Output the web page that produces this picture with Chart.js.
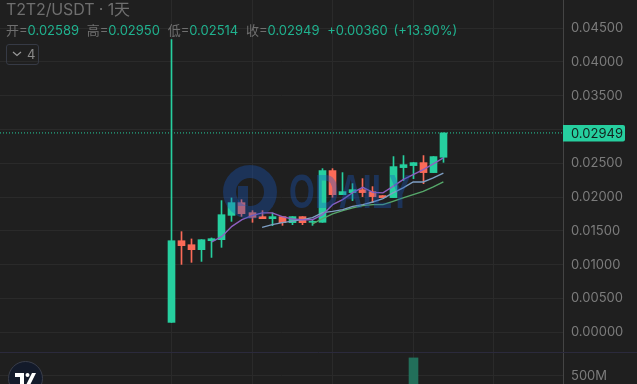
<!DOCTYPE html>
<html>
<head>
<meta charset="utf-8">
<script src="https://cdn.jsdelivr.net/npm/chart.js@4"></script>
<style>
  html, body { margin: 0; padding: 0; background: #1f1f1f; overflow: hidden; }
  #wrap { position: relative; width: 637px; height: 384px; font-family: Inter, "Noto Sans CJK SC", sans-serif; }
  #title { position: absolute; left: 6px; top: 0; font-size: 16px; line-height: 19px; color: #6f6f6f; letter-spacing: -0.12px; }
  #ohlc { position: absolute; left: 6px; top: 22px; font-size: 13px; line-height: 16px; color: #6f6f6f; white-space: nowrap; }
  #ohlc b { font-weight: 400; color: #20b28f; margin-right: 7.7px; }
  #ohlc i { font-style: normal; color: #20b28f; word-spacing: 2px; }
  #toggle { position: absolute; left: 6px; top: 44px; width: 31px; height: 19px; border: 1px solid #363a45; border-radius: 3px; color: #8a8a8a; font-size: 13px; line-height: 19px; }
  #toggle svg { position: absolute; left: 5px; top: 6px; }
  #toggle span { position: absolute; left: 20px; top: 0; }
  #tvlogo { position: absolute; left: 8px; top: 361px; width: 35px; height: 35px; border-radius: 50%; background: #131a2a; border: 1px solid #3a3e4a; box-sizing: border-box; }
  #tvlogo svg { position: absolute; left: 6px; top: 11px; }
</style>
</head>
<body>
<div id="wrap">
  <canvas id="chart" width="637" height="384" style="position:absolute;left:0;top:0"></canvas>
  <div id="title">T2T2/USDT · 1天</div>
  <div id="ohlc">开=<b>0.02589</b>高=<b>0.02950</b>低=<b>0.02514</b>收=<b>0.02949</b><i>+0.00360 (+13.90%)</i></div>
  <div id="toggle">
    <svg width="10" height="6"><path d="M1 1 L5 4.5 L9 1" stroke="#9a9a9a" fill="none" stroke-width="1.2"/></svg>
    <span>4</span>
  </div>
  <div id="tvlogo">
    <svg width="22" height="14"><path d="M0 0 H9 V12 H5 V4 H0 Z M17 0 H21 L15 12 H11 Z" fill="#fff"/><circle cx="12.5" cy="2" r="2" fill="#fff"/></svg>
  </div>
</div>
<script>
// candle values, one entry per day
const opens  = [0.00147, 0.01355, 0.01296, 0.01222, 0.01355, 0.0137, 0.0173, 0.01918, 0.0177, 0.01711, 0.01681, 0.01711, 0.01622, 0.01711, 0.01627, 0.01627, 0.02392, 0.02036, 0.02066, 0.0211, 0.02081, 0.02022, 0.01992, 0.02436, 0.02466, 0.0251, 0.02362, 0.02589];
const closes = [0.01355, 0.01282, 0.01222, 0.0137, 0.01385, 0.0174, 0.01918, 0.01755, 0.017, 0.01681, 0.01711, 0.01622, 0.01711, 0.01622, 0.01641, 0.02392, 0.02036, 0.02081, 0.0211, 0.02066, 0.02007, 0.01992, 0.02451, 0.0248, 0.0251, 0.02362, 0.02599, 0.02949];
const highs  = [0.0433, 0.01489, 0.01381, 0.0137, 0.01396, 0.01948, 0.01988, 0.01962, 0.018, 0.018, 0.01766, 0.01711, 0.01711, 0.01711, 0.01656, 0.02421, 0.02421, 0.02362, 0.02199, 0.02273, 0.02155, 0.02022, 0.02599, 0.02614, 0.0251, 0.02614, 0.02599, 0.0295];
const lows   = [0.00147, 0.01005, 0.01035, 0.01049, 0.01108, 0.01257, 0.01641, 0.01715, 0.01627, 0.01681, 0.01578, 0.01582, 0.01592, 0.01592, 0.01582, 0.01627, 0.01997, 0.02036, 0.01948, 0.02007, 0.01918, 0.01992, 0.01992, 0.02244, 0.02273, 0.02199, 0.02362, 0.02514];

// moving averages, null until the line starts
const ma5  = [null, null, null, null, 0.01336, 0.01419, 0.01567, 0.01666, 0.01726, 0.01766, 0.01766, 0.01711, 0.01677, 0.01666, 0.01666, 0.0174, 0.01888, 0.01962, 0.02066, 0.02145, 0.0207, 0.02062, 0.02159, 0.02258, 0.02332, 0.02406, 0.02491, 0.0258];
const ma10 = [null, null, null, null, null, null, null, null, null, 0.01553, 0.01592, 0.01622, 0.01644, 0.01666, 0.01696, 0.0177, 0.01789, 0.01814, 0.01863, 0.01888, 0.01928, 0.01977, 0.02062, 0.02136, 0.02224, 0.02224, 0.02284, 0.02356];
const ma20 = [null, null, null, null, null, null, null, null, null, null, null, null, null, null, 0.01603, 0.01681, 0.01751, 0.018, 0.0184, 0.01874, 0.01888, 0.01888, 0.01937, 0.01988, 0.02036, 0.02085, 0.0215, 0.02224];

// only one volume bar reaches the visible part of the lower pane
const volumes = [null, null, null, null, null, null, null, null, null, null, null, null, null, null, null, null, null, null, null, null, null, null, null, null, 705e6, null, null, null];

const priceTicks = [0, 0.005, 0.01, 0.015, 0.02, 0.025, 0.03, 0.035, 0.04, 0.045];
const volumeTicks = [500e6];
const timeTicks = [0, 8, 16, 24, 32];
const lastPrice = 0.02949;

const UP = "#26cf9f";
const DOWN = "#fb6a58";
const xMin = -17.03;
const xMax = 38.88;

const candleColors = opens.map((o, i) => (closes[i] >= o ? UP : DOWN));
const toPoints = (arr) => arr.map((y, i) => ({ x: i, y: y }));
const maLine = (arr, color) => ({
    type: "line", data: toPoints(arr), borderColor: color, borderWidth: 1.4,
    pointRadius: 0, yAxisID: "y", order: 1, spanGaps: false
});
// keep the panes flush with the canvas edges
const fitAxis = (s) => { s.width = 74; s.paddingTop = 0; s.paddingBottom = 0; };

// snap bars to whole pixels so the thin wicks stay sharp
const snapBars = {
    id: "snapBars",
    afterDatasetUpdate(chart, args) {
        const meta = chart.getDatasetMeta(args.index);
        if (meta.type !== "bar") return;
        meta.data.forEach((bar) => { bar.x = Math.round(bar.x - 0.5) + 0.5; });
    }
};

// watermark, separator and the last price tag
const overlay = {
    id: "overlay",
    afterDatasetsDraw(chart) {
        const ctx = chart.ctx;
        ctx.save();
        ctx.globalAlpha = 0.35;
        ctx.strokeStyle = "rgb(23,88,194)";
        ctx.fillStyle = "rgb(23,88,194)";
        ctx.lineWidth = 13;
        ctx.beginPath();
        ctx.arc(250, 192, 20.5, 0, Math.PI * 2);
        ctx.stroke();
        ctx.fillRect(238, 186, 10, 20);
        ctx.font = "bold 48px 'Liberation Sans'";
        ctx.fillText("ODAILY", 289, 208, 122);
        ctx.restore();

        ctx.save();
        const sep = chart.scales.yVol.top;
        ctx.strokeStyle = "#2b2a3c";
        ctx.beginPath();
        ctx.moveTo(0, sep + 0.5);
        ctx.lineTo(637, sep + 0.5);
        ctx.stroke();

        const y = chart.scales.y.getPixelForValue(lastPrice);
        const x = chart.chartArea.right;
        ctx.fillStyle = UP;
        ctx.beginPath();
        ctx.roundRect(x, y - 8, 62, 16.5, [0, 2, 2, 0]);
        ctx.fill();
        ctx.fillStyle = "#14201d";
        ctx.font = "13px Inter";
        ctx.textBaseline = "middle";
        ctx.fillText(lastPrice.toFixed(5), x + 8, y + 1);
        ctx.restore();
    }
};

new Chart(document.getElementById("chart"), {
    data: {
        datasets: [
            maLine(ma5, "#8e5fc0"),
            maLine(ma10, "#7f9fc4"),
            maLine(ma20, "#56a86a"),
            {
                type: "line",
                data: [{ x: xMin, y: lastPrice }, { x: xMax, y: lastPrice }],
                borderColor: UP, borderWidth: 1, borderDash: [1, 2],
                pointRadius: 0, yAxisID: "y", order: 2
            },
            {
                type: "bar", data: opens.map((o, i) => ({ x: i, y: [o, closes[i]] })),
                backgroundColor: candleColors, barThickness: 7, grouped: false,
                yAxisID: "y", order: 3
            },
            {
                type: "bar", data: lows.map((l, i) => ({ x: i, y: [l, highs[i]] })),
                backgroundColor: candleColors, barThickness: 1, grouped: false,
                yAxisID: "y", order: 4
            },
            {
                type: "bar", data: toPoints(volumes),
                backgroundColor: "#226f5a", barThickness: 9, grouped: false,
                yAxisID: "yVol", order: 5
            }
        ]
    },
    options: {
        responsive: false,
        animation: false,
        events: [],
        layout: { padding: 0 },
        plugins: { legend: { display: false }, tooltip: { enabled: false } },
        scales: {
            x: {
                type: "linear", min: xMin, max: xMax, offset: false,
                afterBuildTicks: (s) => { s.ticks = timeTicks.map((v) => ({ value: v })); },
                ticks: { display: false },
                grid: { color: "#2a2a2a", drawTicks: false, offset: false },
                border: { display: false }
            },
            y: {
                position: "right", stack: "panes", stackWeight: 352,
                min: -0.00291, max: 0.04915,
                afterFit: fitAxis,
                afterBuildTicks: (s) => { s.ticks = priceTicks.map((v) => ({ value: v })); },
                // the 0.03000 label sits under the price tag in the original
                ticks: { color: "#7c7c7c", font: { family: "Inter", size: 13 }, padding: 8, autoSkip: false, callback: (v) => (v === 0.03 ? "" : v.toFixed(5)) },
                grid: { color: "#2a2a2a", drawTicks: false },
                border: { color: "#444444" }
            },
            yVol: {
                position: "right", stack: "panes", stackWeight: 32,
                min: 409e6, max: 772e6,
                afterFit: fitAxis,
                afterBuildTicks: (s) => { s.ticks = volumeTicks.map((v) => ({ value: v })); },
                ticks: { color: "#7c7c7c", font: { family: "Inter", size: 13 }, padding: 8, autoSkip: false, callback: (v) => v / 1e6 + "M" },
                grid: { color: "#2a2a2a", drawTicks: false },
                border: { color: "#444444" }
            }
        }
    },
    plugins: [snapBars, overlay]
});
</script>
</body>
</html>
